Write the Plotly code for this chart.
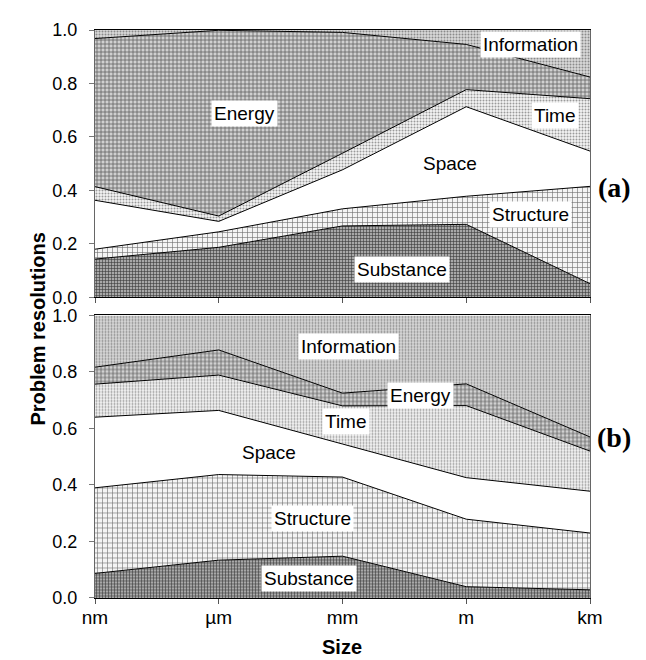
import plotly.graph_objects as go
from plotly.subplots import make_subplots

sizes = ["nm", "µm", "mm", "m", "km"]
series = ["Substance", "Structure", "Space", "Time", "Energy", "Information"]

# Panel (a) shares of problem resolutions (stacked, bottom to top)
a_substance = [0.143, 0.187, 0.267, 0.273, 0.051]
a_structure = [0.037, 0.058, 0.064, 0.105, 0.364]
a_space = [0.183, 0.039, 0.146, 0.335, 0.132]
a_time = [0.051, 0.020, 0.062, 0.064, 0.196]
a_energy = [0.554, 0.695, 0.452, 0.169, 0.081]
a_information = [0.032, 0.001, 0.009, 0.054, 0.176]

# Panel (b)
b_substance = [0.087, 0.134, 0.148, 0.040, 0.029]
b_structure = [0.303, 0.303, 0.280, 0.239, 0.201]
b_space = [0.250, 0.227, 0.117, 0.147, 0.148]
b_time = [0.117, 0.125, 0.135, 0.255, 0.142]
b_energy = [0.060, 0.089, 0.045, 0.077, 0.050]
b_information = [0.183, 0.122, 0.275, 0.242, 0.430]

y_ticks = [0.0, 0.2, 0.4, 0.6, 0.8, 1.0]

# label positions (x index, y value) for each panel
a_label_x = [2.48, 3.52, 2.87, 3.72, 1.21, 3.52]
a_label_y = [0.103, 0.311, 0.502, 0.682, 0.688, 0.947]
b_label_x = [1.73, 1.76, 1.41, 2.03, 2.63, 2.045]
b_label_y = [0.070, 0.282, 0.514, 0.626, 0.716, 0.889]

patterns = {
    "Substance": dict(shape="+", size=3, solidity=0.35, fgcolor="#3a3a3a", bgcolor="#a8a8a8"),
    "Structure": dict(shape="+", size=5, solidity=0.22, fgcolor="#6a6a6a", bgcolor="#f4f4f4"),
    "Space": None,
    "Time": dict(shape=".", size=3, solidity=0.35, fgcolor="#9a9a9a", bgcolor="#f4f4f4"),
    "Energy": dict(shape="+", size=4, solidity=0.35, fgcolor="#606060", bgcolor="#d0d0d0"),
    "Information": dict(shape=".", size=3, solidity=0.35, fgcolor="#8a8a8a", bgcolor="#dadada"),
}

fig = make_subplots(rows=2, cols=1, vertical_spacing=0.032)

panels = [
    (1, [a_substance, a_structure, a_space, a_time, a_energy, a_information]),
    (2, [b_substance, b_structure, b_space, b_time, b_energy, b_information]),
]

for row, vals in panels:
    for name, v in zip(series, vals):
        pat = patterns[name]
        kw = dict(
            x=sizes, y=v, name=name, mode="lines",
            stackgroup=f"g{row}",
            line=dict(color="black", width=0 if name == "Information" else 1),
            showlegend=False, hoverinfo="skip",
        )
        if pat is None:
            kw["fillcolor"] = "white"
        else:
            kw["fillcolor"] = pat["bgcolor"]
            kw["fillpattern"] = dict(fillmode="replace", **pat)
        fig.add_trace(go.Scatter(**kw), row=row, col=1)

label_font = dict(family="Liberation Sans, Arial, sans-serif", size=19, color="black")
for row, lx, ly in [(1, a_label_x, a_label_y), (2, b_label_x, b_label_y)]:
    xr = "x" if row == 1 else "x2"
    yr = "y" if row == 1 else "y2"
    for name, xx, yy in zip(series, lx, ly):
        fig.add_annotation(x=xx, y=yy, xref=xr, yref=yr, text=name, showarrow=False,
                           font=label_font, bgcolor="white", borderpad=2)

for row in (1, 2):
    fig.update_xaxes(
        type="category", range=[0, 4], showgrid=False, zeroline=False,
        showline=True, linecolor="black", linewidth=1, mirror=True,
        ticks="outside", ticklen=5, tickcolor="#555",
        tickvals=sizes, ticktext=sizes if row == 2 else [""] * 5,
        showticklabels=(row == 2), ticklabelstandoff=-3,
        tickfont=dict(family="Liberation Sans, Arial, sans-serif", size=19, color="black"),
        row=row, col=1,
    )
    fig.update_yaxes(
        range=[0, 1], showgrid=False, zeroline=False,
        showline=True, linecolor="#666", linewidth=1, mirror=True,
        ticks="outside", ticklen=5, tickcolor="#777",
        tickvals=y_ticks, ticktext=[f"{t:.1f}" for t in y_ticks], ticklabelstandoff=8,
        tickfont=dict(family="Liberation Sans, Arial, sans-serif", size=18, color="black"),
        row=row, col=1,
    )

fig.update_layout(
    width=646, height=660,
    margin=dict(l=87, r=64, t=19, b=70),
    paper_bgcolor="white", plot_bgcolor="white",
    yaxis=dict(domain=[0.5294, 1.0]),
    yaxis2=dict(domain=[0.0, 0.4974]),
)

fig.add_annotation(xref="paper", yref="paper", x=1.087, y=0.753, text="<b>(a)</b>",
                   showarrow=False, font=dict(family="Liberation Serif, Times New Roman, serif", size=28, color="black"))
fig.add_annotation(xref="paper", yref="paper", x=1.087, y=0.252, text="<b>(b)</b>",
                   showarrow=False, font=dict(family="Liberation Serif, Times New Roman, serif", size=28, color="black"))
fig.add_annotation(xref="paper", yref="paper", x=-0.141, y=0.473, text="<b>Problem resolutions</b>",
                   textangle=-90, showarrow=False,
                   font=dict(family="Liberation Sans, Arial, sans-serif", size=20, color="black"))
fig.add_annotation(xref="paper", yref="paper", x=0.499, y=-0.11, text="<b>Size</b>",
                   showarrow=False,
                   font=dict(family="Liberation Sans, Arial, sans-serif", size=20, color="black"))

fig.write_html("out.html")
